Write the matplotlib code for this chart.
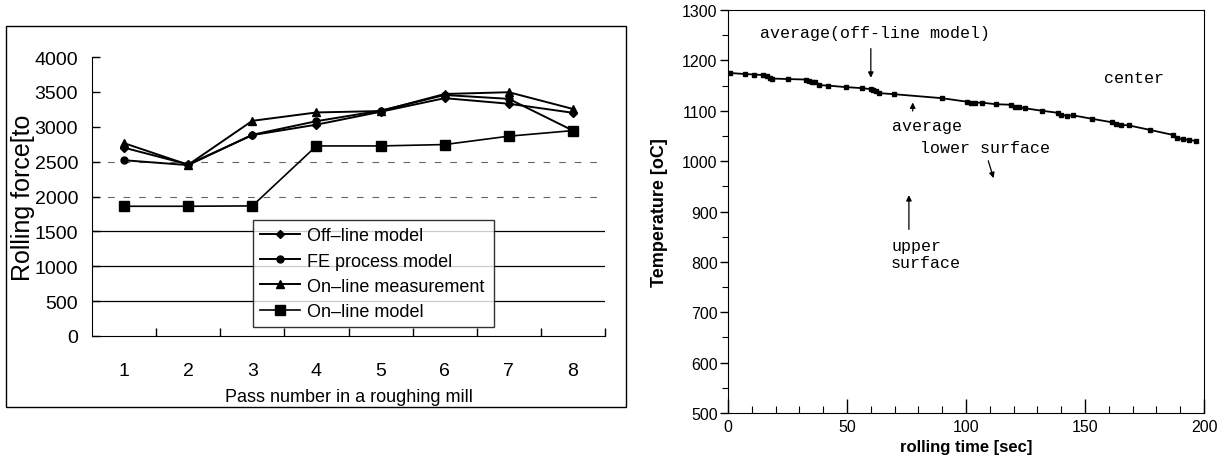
"""Rolling force per pass and slab temperature during rough rolling"""

import numpy as np
import matplotlib
matplotlib.use("Agg")
import matplotlib.pyplot as plt
from matplotlib.patches import Rectangle

plt.rcParams['font.family'] = ['Liberation Sans', 'DejaVu Sans']

# left chart: rolling force for each pass
passes = [1, 2, 3, 4, 5, 6, 7, 8]
offline_model = [2700, 2460, 2880, 3030, 3215, 3410, 3330, 3200]
fe_model = [2520, 2450, 2885, 3080, 3230, 3455, 3400, 2945]
online_measurement = [2765, 2455, 3085, 3205, 3225, 3470, 3495, 3255]
online_model = [1860, 1860, 1865, 2725, 2725, 2745, 2865, 2945]
force_ticks = [0, 500, 1000, 1500, 2000, 2500, 3000, 3500, 4000]

# right chart: temperature vs rolling time
time_sec = [0.8, 7.0, 10.9, 14.6, 16.2, 17.5, 18.6, 25.1, 32.9, 34.0, 35.1, 36.4,
            38.1, 42.1, 49.4, 56.2, 59.9, 61.1, 62.3, 63.6, 69.6, 89.9, 100.4,
            102.0, 103.6, 106.9, 112.6, 119.0, 120.6, 122.3, 124.7, 132.0, 138.5,
            140.1, 142.5, 144.9, 153.0, 161.5, 162.8, 165.2, 168.4, 177.3, 187.0,
            188.7, 191.1, 193.5, 196.8]
temperature = [1175, 1173, 1172, 1171, 1169, 1166, 1164, 1163, 1162, 1160, 1158,
               1157, 1151, 1150, 1147, 1145, 1143, 1141, 1139, 1135, 1133, 1125,
               1118, 1116, 1116, 1116, 1113, 1112, 1108, 1107, 1105, 1100, 1096,
               1092, 1090, 1091, 1084, 1077, 1073, 1072, 1071, 1062, 1052, 1045,
               1044, 1042, 1040]

fig = plt.figure(figsize=(12.25, 4.6), dpi=100)

# frame around the left chart (as in the Excel export)
fig.patches.append(Rectangle((0.0049, 0.113), 0.506, 0.828, transform=fig.transFigure,
                             fill=False, edgecolor='black', linewidth=1.0))

ax1 = fig.add_axes([0.0751, 0.2674, 0.4188, 0.6065])
for y in [500, 1000, 1500]:
    ax1.axhline(y, color='black', linewidth=0.9, zorder=0)
for y in [2000, 2500]:
    ax1.axhline(y, color='#666666', linewidth=0.8, linestyle=(0, (6, 8)), zorder=0)

ax1.plot(passes, offline_model, color='black', linewidth=1.4, marker='D', markersize=4,
         label='Off\u2013line model')
ax1.plot(passes, fe_model, color='black', linewidth=1.4, marker='o', markersize=5,
         label='FE process model')
ax1.plot(passes, online_measurement, color='black', linewidth=1.4, marker='^', markersize=6,
         label='On\u2013line measurement')
ax1.plot(passes, online_model, color='black', linewidth=1.2, marker='s', markersize=7,
         label='On\u2013line model')

ax1.set_xlim(0.5, 8.5)
ax1.set_ylim(0, 4000)
ax1.set_yticks(force_ticks)
ax1.set_xticks(passes)
ax1.set_xticks(np.arange(1.5, 9, 1.0), minor=True)
ax1.tick_params(axis='x', which='major', length=0, pad=19, labelsize=14)
ax1.tick_params(axis='x', which='minor', direction='in', length=6, width=1)
ax1.tick_params(axis='y', direction='in', length=6, width=1, pad=10, labelsize=14)
ax1.spines['top'].set_visible(False)
ax1.spines['right'].set_visible(False)
ax1.set_ylabel('Rolling force[to', fontsize=18)
ax1.yaxis.set_label_coords(-0.112, 0.5)
ax1.set_xlabel('Pass number in a roughing mill', fontsize=13)
ax1.xaxis.set_label_coords(0.5, -0.185)

leg = ax1.legend(loc='lower left', bbox_to_anchor=(0.313, 0.032, 0.47, 0.39), mode='expand',
                 fontsize=13, frameon=True, fancybox=False, edgecolor='black',
                 handlelength=2.2, borderpad=0.4, labelspacing=0.45, handletextpad=0.4,
                 borderaxespad=0)
leg.get_frame().set_linewidth(1.0)

# right chart
ax2 = fig.add_axes([0.5943, 0.1, 0.3886, 0.876])
ax2.plot(time_sec, temperature, color='black', linewidth=1.3, marker='s', markersize=3.5)

ax2.set_xlim(0, 200)
ax2.set_ylim(500, 1300)
ax2.set_xticks(np.arange(0, 201, 50))
ax2.set_xticks(np.arange(0, 201, 10), minor=True)
ax2.set_yticks(np.arange(500, 1301, 100))
ax2.set_yticks(np.arange(500, 1301, 50), minor=True)
ax2.tick_params(axis='x', which='major', direction='in', length=10, width=1, pad=4,
                labelsize=11.5)
ax2.tick_params(axis='x', which='minor', direction='in', length=5, width=0.8)
ax2.tick_params(axis='y', which='major', direction='out', length=6, width=1, pad=1.5,
                labelsize=11.5)
ax2.tick_params(axis='y', which='minor', direction='out', length=4, width=0.8)
ax2.set_xlabel('rolling time [sec]', fontsize=12, fontweight='bold', labelpad=4)
ax2.set_ylabel('Temperature [oC]', fontsize=13, fontweight='bold', labelpad=10)

mono = {'family': 'Liberation Mono', 'fontsize': 12}
ax2.text(13.4, 1256, 'average(off-line model)', va='center', **mono)
ax2.text(158, 1167, 'center', va='center', **mono)
ax2.text(69, 1070, 'average', va='center', **mono)
ax2.text(80.5, 1028, 'lower surface', va='center', **mono)
ax2.text(68.5, 816, 'upper\nsurface', va='center', linespacing=1.15, **mono)

arrow = dict(arrowstyle='-|>', color='black', linewidth=0.9, mutation_scale=8)
ax2.annotate('', xy=(60, 1160), xytext=(60, 1229), arrowprops=arrow)
ax2.annotate('', xy=(77.6, 1122), xytext=(77.6, 1094), arrowprops=arrow)
ax2.annotate('', xy=(111.9, 961), xytext=(109, 1006), arrowprops=arrow)
ax2.annotate('', xy=(76, 938), xytext=(76, 859), arrowprops=arrow)

plt.savefig('out.png', dpi=100)
